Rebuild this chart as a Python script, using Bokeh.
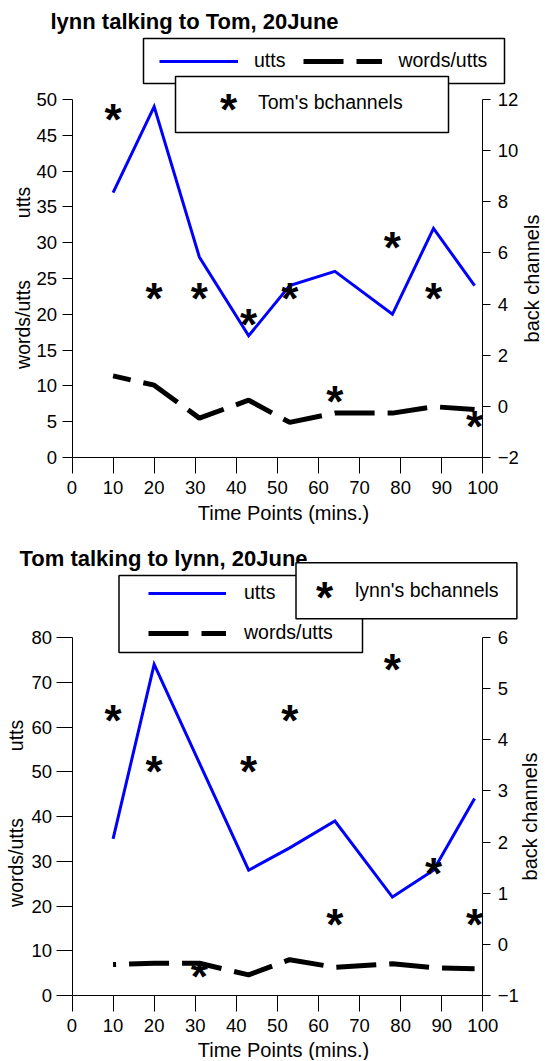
from math import pi
from bokeh.plotting import figure
from bokeh.models import Range1d, FixedTicker, LinearAxis, Legend, LegendItem, Label
from bokeh.layouts import column
from bokeh.core.properties import value
from bokeh.embed import file_html
from bokeh.resources import INLINE

# ------------------------------------------------------------------ data
time_points = [10, 20, 31, 43, 53, 64, 78, 88, 98]
x_ticks = [0, 10, 20, 30, 40, 50, 60, 70, 80, 90, 100]

# chart 1: lynn talking to Tom
lynn_utts = [37, 49, 28, 17, 24, 26, 20, 32, 24]
lynn_words_per_utt = [11.4, 10.1, 5.5, 8.0, 4.9, 6.2, 6.2, 7.1, 6.7]
tom_bchannels = [11.45, 4.45, 4.45, 3.45, 4.45, 0.45, 6.45, 4.45, -0.55]
top_left_ticks = [0, 5, 10, 15, 20, 25, 30, 35, 40, 45, 50]
top_right_ticks = [-2, 0, 2, 4, 6, 8, 10, 12]

# chart 2: Tom talking to lynn
tom_utts = [35, 74, 52, 28, 33, 39, 22, 28, 44]
tom_words_per_utt = [6.9, 7.2, 7.2, 4.6, 8.0, 6.3, 7.1, 6.2, 6.0]
lynn_bchannels = [4.5, 3.5, -0.5, 3.5, 4.5, 0.5, 5.5, 1.5, 0.5]
bottom_left_ticks = [0, 10, 20, 30, 40, 50, 60, 70, 80]
bottom_right_ticks = [-1, 0, 1, 2, 3, 4, 5, 6]

# ------------------------------------------------------------------ layout
FONT = "Liberation Sans"
W = 544
FL, FR = 71.5, 482.3          # page x of time 0 and time 100
KX = (FR - FL) / 100.0
STAR_PX = 44
STAR_LIFT = 6.2               # star ink centre sits this far above its text anchor
ITEM_H = 22
DASH = "40 13"


def make_chart(title, utts, wpu, bch, bch_label, left_ticks, right_ticks, g):
    H, off = g["h"], g["off"]
    ft, fb = g["ft"] - off, g["fb"] - off
    lo, hi = left_ticks[0], left_ticks[-1]
    rlo, rhi = right_ticks[0], right_ticks[-1]
    ky = (fb - ft) / (hi - lo)
    kr = (fb - ft) / (rhi - rlo)

    def X(px):
        return (px - FL) / KX

    def Y(py):
        return hi - ((py - off) - ft) / ky

    def vy(py_bottom):
        return round(H - (py_bottom - off))

    p = figure(width=W, height=H,
               x_range=Range1d(X(0), X(W)),
               y_range=Range1d(Y(off + H), Y(off)),
               output_backend="svg", toolbar_location=None,
               min_border=0, min_border_left=0, min_border_right=0, min_border_top=0, min_border_bottom=0,
               outline_line_color=None, background_fill_color="white", border_fill_color="white")
    p.xgrid.visible = False
    p.ygrid.visible = False
    p.extra_y_ranges = {"bch": Range1d(rlo - (H - fb) / kr, rhi + ft / kr)}

    xax = p.xaxis[0]
    yax = p.yaxis[0]
    right = LinearAxis(y_range_name="bch")
    p.add_layout(right, "right")

    xax.ticker = FixedTicker(ticks=x_ticks)
    xax.fixed_location = 0
    xax.bounds = (0, 100)
    yax.ticker = FixedTicker(ticks=left_ticks)
    yax.fixed_location = 0
    yax.bounds = (lo, hi)
    right.ticker = FixedTicker(ticks=right_ticks)
    right.fixed_location = 100
    right.bounds = (rlo, rhi)

    for ax in [xax, yax, right]:
        ax.axis_line_color = "black"
        ax.axis_line_width = 1
        ax.major_tick_line_color = "black"
        ax.major_tick_line_width = 1
        ax.major_tick_in = 0
        ax.minor_tick_line_color = None
        ax.major_label_text_font = FONT
        ax.major_label_text_font_size = "18.5px"
        ax.major_label_text_color = "black"
    xax.major_tick_out = 16
    xax.major_label_standoff = 7
    yax.major_tick_out = g["ly_tick"]
    yax.major_label_standoff = g["ly_std"]
    right.major_tick_out = 8
    right.major_label_standoff = 7

    # data
    utts_style = dict(line_color="#0000FF", line_width=3, line_join="miter")
    wpu_style = dict(line_color="black", line_width=5, line_dash=DASH)
    r_utts = p.line(time_points, utts, **utts_style)
    p.line(time_points, wpu, line_dash_offset=g["dash_off"], **wpu_style)
    star_style = dict(text_font=value(FONT), text_font_style="bold", text_font_size=value(f"{STAR_PX}px"),
                      text_align="center", text_baseline="alphabetic", y_offset=STAR_LIFT,
                      text_color="black")
    r_bch = p.text(x=time_points, y=bch, text=["*"] * len(bch), y_range_name="bch", **star_style)
    # legend key for the dashed series: a one-point line (draws nothing on the chart)
    # whose dash pattern starts at the swatch edge
    r_wpu_key = p.line(x=time_points[:1], y=wpu[:1], line_dash_offset=0, **wpu_style)

    # title (drawn before the legend boxes, which overlap it)
    tx, ty = g["title"]
    p.text(x=[X(tx)], y=[Y(ty)], text=[title], text_font=value(FONT), text_font_size=value("22px"),
           text_font_style="bold", text_align="left", text_baseline="middle", text_color="black")

    # legend frames (the second one overlaps the first)
    for (bl, br, bt, bb) in g["boxes"]:
        p.quad(left=[X(bl)], right=[X(br)], top=[Y(bt)], bottom=[Y(bb)], fill_color="white",
               fill_alpha=1.0, line_color="black", line_width=1.5)
    sx, sy = g["leg_star"]
    p.text(x=[X(sx)], y=[Y(sy)], text=["*"], **star_style)

    # axis titles
    lx, ly = g["xlab"]
    p.add_layout(Label(x=X(lx), y=Y(ly), text="Time Points (mins.)", text_font=FONT,
                       text_font_size="20px", text_align="center", text_baseline="middle",
                       text_color="black"))
    for txt, (ax_x, ax_y), fs in [("utts", g["utts_lab"], "19.5px"), ("words/utts", g["wpu_lab"], "19.5px"),
                                  ("back channels", g["back_lab"], "20px")]:
        p.add_layout(Label(x=X(ax_x), y=Y(ax_y), text=txt, angle=pi / 2, text_font=FONT,
                           text_font_size=fs, text_align="center", text_baseline="middle",
                           text_color="black"))

    # legend contents
    common = dict(label_text_font=FONT, label_text_font_size="19.5px", label_text_color="black",
                  border_line_color=None, background_fill_alpha=0.0, margin=0, padding=0,
                  label_height=ITEM_H, glyph_height=ITEM_H)
    (l1x, l1b), (l2x, l2b) = g["leg1_pos"], g["leg2_pos"]
    l1 = Legend(items=[LegendItem(label="utts", renderers=[r_utts]),
                       LegendItem(label="words/utts", renderers=[r_wpu_key])],
                location=(l1x, vy(l1b)), **common, **g["leg1"])
    l2 = Legend(items=[LegendItem(label=bch_label, renderers=[r_bch])],
                location=(l2x, vy(l2b)), glyph_width=20, label_standoff=0, **common)
    p.add_layout(l1)
    p.add_layout(l2)
    return p


g1 = dict(h=527, off=0, ft=99.0, fb=457.0, ly_tick=10, ly_std=5, dash_off=22,
          title=(50, 21), xlab=(283, 512), utts_lab=(22.6, 202), wpu_lab=(22.6, 324),
          back_lab=(531, 278),
          boxes=[(143, 504, 38, 83), (175, 448, 76, 132)],
          leg1_pos=(159, 72), leg2_pos=(238, 114),
          leg1=dict(orientation="horizontal", spacing=18, glyph_width=79, label_standoff=16,
                    label_width=20),
          leg_star=(228, 103))
g2 = dict(h=533, off=527, ft=637.0, fb=995.0, ly_tick=16, ly_std=4, dash_off=37,
          title=(19, 558), xlab=(283, 1049), utts_lab=(15.5, 735), wpu_lab=(15.5, 862),
          back_lab=(529, 816),
          boxes=[(118.5, 362, 575, 652), (295.5, 516.4, 562.3, 618.3)],
          leg1_pos=(148, 644), leg2_pos=(335, 601.7),
          leg1=dict(orientation="vertical", spacing=17, glyph_width=78, label_standoff=18,
                    label_width=20),
          leg_star=(324, 591))

p1 = make_chart("lynn talking to Tom, 20June", lynn_utts, lynn_words_per_utt, tom_bchannels,
                "Tom's bchannels", top_left_ticks, top_right_ticks, g1)
p2 = make_chart("Tom talking to lynn, 20June", tom_utts, tom_words_per_utt, lynn_bchannels,
                "lynn's bchannels", bottom_left_ticks, bottom_right_ticks, g2)

layout = column(p1, p2)
open("out.html", "w").write(file_html(layout, INLINE))
